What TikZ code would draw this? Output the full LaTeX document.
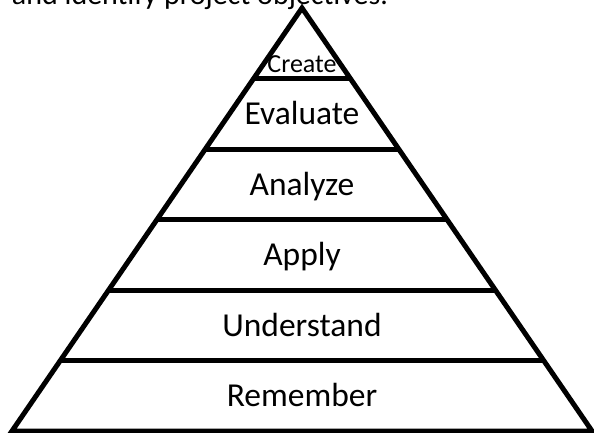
\documentclass[tikz,border=0pt]{standalone}
\usepackage{fontspec}
\setmainfont{Carlito}
\usetikzlibrary{calc}
\tikzset{%
  pyramid line/.style={line width=5pt,line join=miter},%
  level label/.style={inner sep=0pt,outer sep=0pt,anchor=base,
    font=\fontsize{33.5}{40}\selectfont},%
  body text/.style={inner sep=0pt,outer sep=0pt,anchor=base west,
    font=\fontsize{30}{36}\selectfont}%
}

\begin{document}
\begin{tikzpicture}[x=1pt,y=-1pt]

%definitions
\def\Mid{302} % axis of the pyramid
\def\Top{8} % apex
\def\Base{431} % base line
\def\Hw{290} % half width of the base
\useasboundingbox (0,0) rectangle (594,432);
\clip (0,0) rectangle (594,432);
\coordinate (A) at (\Mid,\Top);
\coordinate (L) at (\Mid-\Hw,\Base);
\coordinate (R) at (\Mid+\Hw,\Base);
\draw[pyramid line] (A) -- (L) -- (R) -- cycle;
\foreach \i in {1,...,5}{
  \draw[pyramid line] ($(A)!\i/6!(L)$) -- ($(A)!\i/6!(R)$);
}
%labels
\node[body text] (intro) at (12,4.5) {and identify project objectives.};
\node[level label,font=\fontsize{26}{31}\selectfont] (create) at (\Mid,72) {Create};
\node[level label] (evaluate) at (\Mid,124) {Evaluate};
\node[level label] (analyze) at (\Mid,195) {Analyze};
\node[level label] (apply) at (\Mid,265) {Apply};
\node[level label] (understand) at (\Mid,336) {Understand};
\node[level label] (remember) at (\Mid,406) {Remember};

\end{tikzpicture}
\end{document}
